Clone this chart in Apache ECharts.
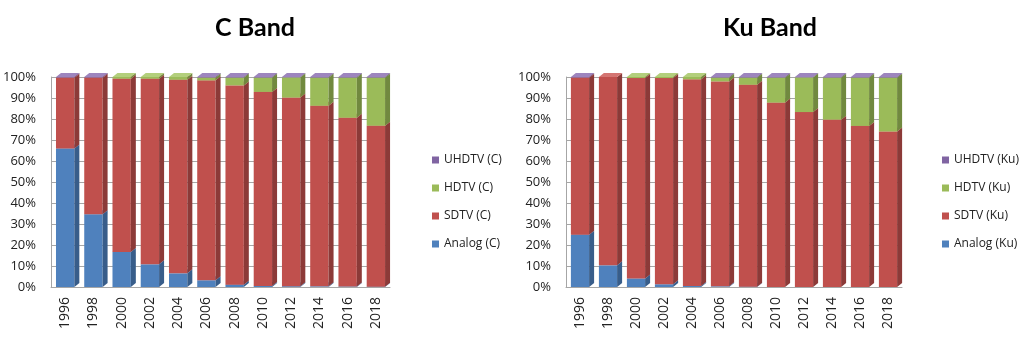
<!DOCTYPE html>
<html>
<head>
<meta charset="utf-8">
<script src="https://cdn.jsdelivr.net/npm/echarts@6/dist/echarts.min.js"></script>
<style>
  html, body { margin: 0; padding: 0; background: #fff; }
  #chart { width: 1027px; height: 357px; }
</style>
</head>
<body>
<div id="chart"></div>
<script>
// years on the x axis
var years = ['1996', '1998', '2000', '2002', '2004', '2006', '2008', '2010', '2012', '2014', '2016', '2018'];

// C band shares (%)
var analogC = [66, 34.6, 16.7, 10.8, 6.5, 3.2, 1.1, 0.5, 0.4, 0.3, 0.2, 0.1];
var sdtvC   = [33.7, 65.1, 82.5, 88.4, 92.2, 95.2, 94.9, 92.4, 89.8, 86.0, 80.4, 76.7];
var hdtvC   = [0, 0, 0.8, 0.8, 1.3, 1.3, 3.7, 6.8, 9.6, 13.4, 19.1, 22.9];
var uhdtvC  = [0.3, 0.3, 0, 0, 0, 0.3, 0.3, 0.3, 0.2, 0.3, 0.3, 0.3];

// Ku band shares (%)
var analogKu = [24.9, 10.3, 4.0, 1.3, 0.5, 0.3, 0.1, 0, 0, 0, 0, 0];
var sdtvKu   = [74.8, 89.7, 95.5, 98.2, 98.4, 97.6, 96.2, 87.8, 83.3, 79.7, 76.7, 74.0];
var hdtvKu   = [0, 0, 0.5, 0.5, 1.1, 1.8, 3.4, 11.9, 16.5, 20.0, 23.0, 25.7];
var uhdtvKu  = [0.3, 0, 0, 0, 0, 0.3, 0.3, 0.3, 0.2, 0.3, 0.3, 0.3];

// front / side / top shades
var colAnalog = ['#4F81BD', '#385D8A', '#7399CC'];
var colSdtv   = ['#C0504D', '#8C3A38', '#D47572'];
var colHdtv   = ['#9BBB59', '#71893F', '#B3CF7C'];
var colUhdtv  = ['#8064A2', '#5C4776', '#9D85BE'];

var DX = 5, DY = 4;

function bar3d(colors) {
  return function (params, api) {
    var lo = api.value(1), hi = api.value(2);
    if (hi - lo <= 0) return null;
    var p0 = api.coord([api.value(0), lo]);
    var p1 = api.coord([api.value(0), hi]);
    var bw = api.size([1, 0])[0] * 0.65;
    var x0 = p0[0] - bw / 2, x1 = p0[0] + bw / 2;
    var yb = p0[1], yt = p1[1];
    return {
      type: 'group',
      children: [
        { type: 'rect', shape: { x: x0, y: yt, width: bw, height: yb - yt }, style: { fill: colors[0] } },
        { type: 'polygon', shape: { points: [[x1, yb], [x1 + DX, yb - DY], [x1 + DX, yt - DY], [x1, yt]] }, style: { fill: colors[1] } },
        { type: 'polygon', shape: { points: [[x0, yt], [x1, yt], [x1 + DX, yt - DY], [x0 + DX, yt - DY]] }, style: { fill: colors[2] } }
      ]
    };
  };
}

// stack the four arrays into [index, base, top] rows
function stackRows(list) {
  var base = years.map(function () { return 0; });
  return list.map(function (arr) {
    return arr.map(function (v, i) {
      var row = [i, base[i], base[i] + v];
      base[i] += v;
      return row;
    });
  });
}

var rowsC = stackRows([analogC, sdtvC, hdtvC, uhdtvC]);
var rowsKu = stackRows([analogKu, sdtvKu, hdtvKu, uhdtvKu]);

function makeSeries(name, rows, colors, idx) {
  return {
    name: name,
    type: 'custom',
    xAxisIndex: idx,
    yAxisIndex: idx,
    renderItem: bar3d(colors),
    itemStyle: { color: colors[0] },
    encode: { x: 0, y: [1, 2] },
    data: rows
  };
}

var labelFont = { fontFamily: 'Open Sans', fontSize: 13, color: '#222' };

function xAx(idx) {
  return {
    type: 'category', gridIndex: idx, data: years,
    axisTick: { show: false },
    axisLine: { lineStyle: { color: '#a6a6a6' } },
    axisLabel: Object.assign({ rotate: 90, margin: 10, interval: 0 }, labelFont, { fontSize: 14 })
  };
}
function yAx(idx, margin) {
  return {
    type: 'value', gridIndex: idx, min: 0, max: 100, interval: 10,
    axisLine: { show: true, lineStyle: { color: '#a6a6a6' } },
    axisTick: { show: false },
    splitLine: { lineStyle: { color: '#a6a6a6' } },
    axisLabel: Object.assign({ margin: margin, formatter: '{value}%' }, labelFont)
  };
}
function legendAt(left, names) {
  return {
    orient: 'vertical', left: left, top: 149, itemGap: 16,
    itemWidth: 7, itemHeight: 7, icon: 'rect',
    textStyle: { fontFamily: 'Open Sans', fontSize: 12, color: '#222' },
    data: names
  };
}

var titleFont = { fontFamily: 'Lato', fontWeight: 'bold', fontSize: 25, color: '#000' };

var chart = echarts.init(document.getElementById('chart'));
chart.setOption({
  animation: false,
  title: [
    { text: 'C Band', left: 250, top: 10, textAlign: 'center', textStyle: titleFont },
    { text: 'Ku Band', left: 765, top: 10, textAlign: 'center', textStyle: titleFont }
  ],
  legend: [
    legendAt(427, ['UHDTV (C)', 'HDTV (C)', 'SDTV (C)', 'Analog (C)']),
    legendAt(937, ['UHDTV (Ku)', 'HDTV (Ku)', 'SDTV (Ku)', 'Analog (Ku)'])
  ],
  grid: [
    { left: 50, top: 77, width: 340, height: 210 },
    { left: 566, top: 77, width: 336, height: 210 }
  ],
  xAxis: [xAx(0), xAx(1)],
  yAxis: [yAx(0, 15), yAx(1, 15)],
  series: [
    makeSeries('Analog (C)', rowsC[0], colAnalog, 0),
    makeSeries('SDTV (C)', rowsC[1], colSdtv, 0),
    makeSeries('HDTV (C)', rowsC[2], colHdtv, 0),
    makeSeries('UHDTV (C)', rowsC[3], colUhdtv, 0),
    makeSeries('Analog (Ku)', rowsKu[0], colAnalog, 1),
    makeSeries('SDTV (Ku)', rowsKu[1], colSdtv, 1),
    makeSeries('HDTV (Ku)', rowsKu[2], colHdtv, 1),
    makeSeries('UHDTV (Ku)', rowsKu[3], colUhdtv, 1)
  ]
});
</script>
</body>
</html>
